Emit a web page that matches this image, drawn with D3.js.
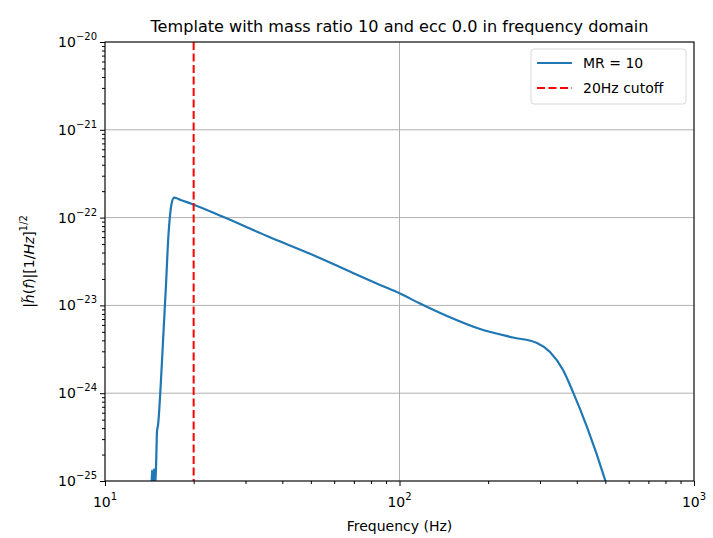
<!DOCTYPE html>
<html>
<head>
<meta charset="utf-8">
<script src="https://cdn.jsdelivr.net/npm/d3@7"></script>
<style>
  body { margin: 0; background: #fff; }
  text { font-family: "DejaVu Sans", sans-serif; fill: #000; }
</style>
</head>
<body>
<svg id="chart" width="713" height="538"></svg>
<script>
// values
let freq = [14.38, 14.44, 14.55, 14.67, 14.78, 14.90, 14.96, 15.02, 15.14, 15.46,
  15.78, 16.11, 16.40, 16.63, 16.85, 17.16, 17.42, 17.97, 19.74, 25.16,
  35.49, 50.85, 69.5, 85.9, 100.4, 117.4, 145.0, 187.7, 242.9,
  293.1, 324.3, 359.2, 388.3, 433.3, 496.7, 505];
let amp = [7.9e-26, 1.33e-25, 7.9e-26, 1.37e-25, 8.7e-26, 1.39e-25, 2.38e-25, 3.7e-25, 4.34e-25, 1.24e-24,
  4.6e-24, 1.71e-23, 5.86e-23, 1.07e-22, 1.47e-22, 1.69e-22, 1.67e-22, 1.60e-22, 1.43e-22, 1.02e-22,
  6.17e-23, 3.75e-23, 2.34e-23, 1.71e-23, 1.365e-23, 1.05e-23, 7.57e-24, 5.38e-24, 4.31e-24,
  3.73e-24, 2.95e-24, 1.84e-24, 1.03e-24, 4.12e-25, 1.08e-25, 9.0e-26];
let cutoff = 20;
let xDecades = [1, 2, 3];              // exponents of 10 on x
let yDecades = [-20, -21, -22, -23, -24, -25];
let seriesNames = ["MR = 10", "20Hz cutoff"];
let title = "Template with mass ratio 10 and ecc 0.0 in frequency domain";

let margin = {top: 42, right: 19, bottom: 57, left: 105}
  , W = 713, H = 538
  , w = W - margin.left - margin.right
  , h = H - margin.top - margin.bottom;

let svg = d3.select("#chart");
let g = svg.append("g").attr("transform", `translate(${margin.left},${margin.top})`);

let x = d3.scaleLog().domain([10, 1000]).range([0, w]);
let y = d3.scaleLog().domain([1e-25, 1e-20]).range([h, 0]);

// minor tick values 2..9 x 10^k
function minors(lo, hi) {
  let out = [];
  for(let k=lo; k<hi; k++) for(let m=2; m<10; m++) out.push(m * Math.pow(10, k));
  return out;
}

// grid lines (major only)
g.append("g").selectAll("line").data(xDecades.map(e => Math.pow(10, e))).join("line")
  .attr("x1", d => x(d)).attr("x2", d => x(d)).attr("y1", 0).attr("y2", h)
  .attr("stroke", "#b0b0b0").attr("stroke-width", 1);
g.append("g").selectAll("line").data(yDecades.map(e => Math.pow(10, e))).join("line")
  .attr("y1", d => y(d)).attr("y2", d => y(d)).attr("x1", 0).attr("x2", w)
  .attr("stroke", "#b0b0b0").attr("stroke-width", 1);

// clip for the series
svg.append("defs").append("clipPath").attr("id", "clip")
  .append("rect").attr("width", w).attr("height", h);

let line = d3.line().x((d, i) => x(freq[i])).y(d => y(d)).curve(d3.curveMonotoneX);
g.append("path").datum(amp)
  .attr("clip-path", "url(#clip)")
  .attr("d", line)
  .attr("fill", "none").attr("stroke", "#1f77b4").attr("stroke-width", 2.2)
  .attr("stroke-linejoin", "round");

g.append("line")
  .attr("x1", x(cutoff)).attr("x2", x(cutoff)).attr("y1", 0).attr("y2", h)
  .attr("stroke", "red").attr("stroke-width", 2).attr("stroke-dasharray", "8,3.5");

// axes: major + minor ticks
function styleAxis(sel) {
  sel.select(".domain").remove();
  sel.selectAll(".tick line").attr("stroke", "#000").attr("stroke-width", 1);
}
g.append("g").attr("transform", `translate(0,${h})`)
  .call(d3.axisBottom(x).tickValues(xDecades.map(e => Math.pow(10, e))).tickFormat("").tickSize(5))
  .call(styleAxis);
g.append("g").attr("transform", `translate(0,${h})`)
  .call(d3.axisBottom(x).tickValues(minors(1, 3)).tickFormat("").tickSize(3))
  .call(styleAxis);
g.append("g")
  .call(d3.axisLeft(y).tickValues(yDecades.map(e => Math.pow(10, e))).tickFormat("").tickSize(5))
  .call(styleAxis);
g.append("g")
  .call(d3.axisLeft(y).tickValues(minors(-25, -20)).tickFormat("").tickSize(3))
  .call(styleAxis);

// frame
g.append("rect").attr("width", w).attr("height", h)
  .attr("fill", "none").attr("stroke", "#000").attr("stroke-width", 1);

// power-of-ten labels
function powLabel(sel, exp) {
  sel.append("tspan").text("10");
  sel.append("tspan").attr("dy", -7).attr("font-size", "10px")
    .text(exp < 0 ? "\u2212" + (-exp) : exp);
}
for(let e of xDecades) {
  let t = g.append("text").attr("x", x(Math.pow(10, e))).attr("y", h + 26)
    .attr("text-anchor", "middle").attr("font-size", "14px");
  powLabel(t, e);
}
for(let e of yDecades) {
  let t = g.append("text").attr("x", -8).attr("y", y(Math.pow(10, e)) + 5)
    .attr("text-anchor", "end").attr("font-size", "14px");
  powLabel(t, e);
}

// title + axis labels
svg.append("text").attr("x", margin.left + w / 2).attr("y", 32)
  .attr("text-anchor", "middle").attr("font-size", "16.5px")
  .attr("textLength", 498).attr("lengthAdjust", "spacingAndGlyphs")
  .text(title);
svg.append("text").attr("x", margin.left + w / 2).attr("y", 531)
  .attr("text-anchor", "middle").attr("font-size", "14px")
  .text("Frequency (Hz)");

let yl = svg.append("text")
  .attr("transform", `translate(34,${margin.top + h / 2}) rotate(-90)`)
  .attr("text-anchor", "middle").attr("font-size", "14px");
yl.append("tspan").text("|");
yl.append("tspan").attr("font-style", "italic").text("h\u0303");
yl.append("tspan").text("(");
yl.append("tspan").attr("font-style", "italic").text("f");
yl.append("tspan").text(")|[1/");
yl.append("tspan").attr("font-style", "italic").text("Hz");
yl.append("tspan").text("]");
yl.append("tspan").attr("dy", -7).attr("font-size", "10px").text("1/2");

// legend
let lg = svg.append("g").attr("transform", "translate(531,49)");
lg.append("rect").attr("width", 155).attr("height", 55).attr("rx", 3)
  .attr("fill", "#fff").attr("fill-opacity", 0.8).attr("stroke", "#d9d9d9");
let styles = [{color: "#1f77b4", dash: null, w: 2.2}, {color: "red", dash: "8,3.5", w: 2}];
seriesNames.forEach((name, i) => {
  let yy = 14 + i * 25;
  lg.append("line").attr("x1", 6).attr("x2", 41).attr("y1", yy).attr("y2", yy)
    .attr("stroke", styles[i].color).attr("stroke-width", styles[i].w)
    .attr("stroke-dasharray", styles[i].dash);
  lg.append("text").attr("x", 52).attr("y", yy + 5).attr("font-size", "14px").text(name);
});
</script>
</body>
</html>
